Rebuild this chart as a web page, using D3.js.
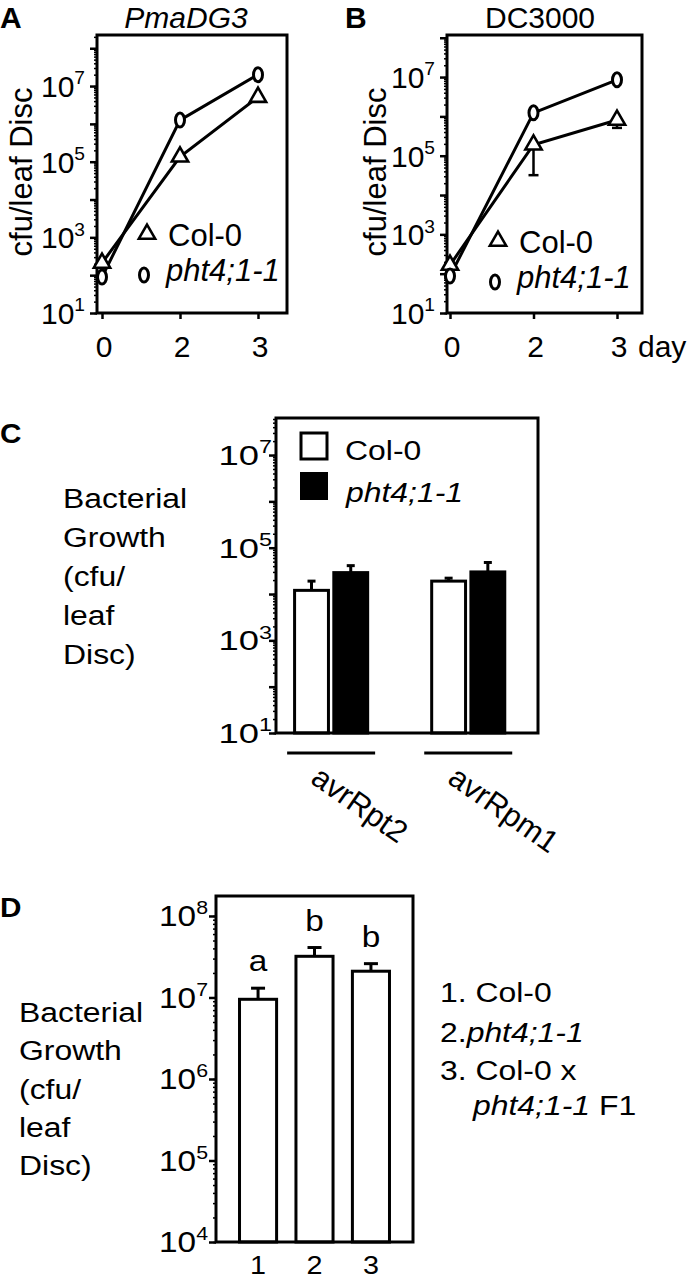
<!DOCTYPE html>
<html>
<head>
<meta charset="utf-8">
<script src="https://cdn.jsdelivr.net/npm/d3@7"></script>
<style>
  body { margin: 0; background: #fff; }
  svg { display: block; }
  text { font-family: "Liberation Sans", Arial, Helvetica, sans-serif; fill: #000; }
</style>
</head>
<body>
<div id="chart"></div>
<script>
// ---- data ----
var days = ["0", "2", "3"];
var pmaCol0 = [210, 1.35e5, 5.1e6];
var pmaPht = [89, 1.26e6, 2.0e7];
var dcCol0 = [166, 1.9e5, 8.1e5];
var dcCol0Low = [166, 3.2e4, 5.1e5];
var dcPht = [87, 1.23e6, 8.5e6];

var avrStrains = ["avrRpt2", "avrRpm1"];
var genotypes = ["Col-0", "pht4;1-1"];
var avrCol0 = [1.2e4, 1.9e4];
var avrCol0Err = [1.9e4, 2.2e4];
var avrPht = [2.9e4, 3.0e4];
var avrPhtErr = [4.1e4, 4.8e4];

var f1Lines = ["1", "2", "3"];
var f1Growth = [9.5e6, 3.2e7, 2.1e7];
var f1Err = [1.3e7, 4.1e7, 2.6e7];
var f1Letters = ["a", "b", "b"];

var yLabelLines = ["Bacterial", "Growth", "(cfu/", "leaf", "Disc)"];

var svg = d3.select("#chart").append("svg")
    .attr("width", 688)
    .attr("height", 1280);

// text helper, sx stretches horizontally like the original figure
function txt(g, x, y, s, size, o) {
    o = o || {};
    var t = g.append("text")
        .attr("transform", "translate(" + x + "," + y + ") scale(" + (o.sx || 1) + ",1)")
        .style("font-size", size + "px");
    if (o.anchor) t.attr("text-anchor", o.anchor);
    if (o.italic) t.style("font-style", "italic");
    if (o.bold) t.style("font-weight", "bold");
    t.text(s);
    return t;
}

function powLabel(g, x, y, e, size, sx) {
    var t = g.append("text")
        .attr("transform", "translate(" + x + "," + (y + size * 0.36) + ") scale(" + sx + ",1)")
        .attr("text-anchor", "end")
        .style("font-size", size + "px");
    t.append("tspan").text("10");
    t.append("tspan").attr("dy", -size * 0.42).style("font-size", (size * 0.64) + "px").text(e);
}

// log axis with minor ticks + frame box
function logAxis(g, y, x0, x1, majors, labelled, gap, size, sx) {
    var dom = y.domain();
    var minor = y.ticks(20).filter(function(v) { return v >= dom[0] && v <= dom[1]; });
    g.append("g")
        .attr("transform", "translate(" + x0 + ",0)")
        .call(d3.axisLeft(y).tickValues(minor).tickSize(3).tickFormat(""))
        .call(function(a) { a.select(".domain").remove(); a.selectAll("line").attr("stroke-width", 1.5); });
    g.append("g")
        .attr("transform", "translate(" + x0 + ",0)")
        .call(d3.axisLeft(y).tickValues(majors).tickSize(7).tickFormat(""))
        .call(function(a) { a.select(".domain").remove(); a.selectAll("line").attr("stroke-width", 2.5); });
    labelled.forEach(function(v) {
        powLabel(g, x0 - gap, y(v), Math.round(Math.log10(v)), size, sx);
    });
    var r = y.range();
    g.append("rect")
        .attr("x", x0).attr("y", r[1])
        .attr("width", x1 - x0).attr("height", r[0] - r[1])
        .attr("fill", "none").attr("stroke", "#000").attr("stroke-width", 3);
}

function triangle(g, x, y) {
    g.append("path")
        .attr("d", d3.symbol(d3.symbolTriangle).size(115)())
        .attr("transform", "translate(" + x + "," + y + ")")
        .attr("fill", "#fff").attr("stroke", "#000").attr("stroke-width", 2.6);
}
function oval(g, x, y) {
    g.append("ellipse")
        .attr("cx", x).attr("cy", y).attr("rx", 4.5).attr("ry", 7)
        .attr("fill", "#fff").attr("stroke", "#000").attr("stroke-width", 3);
}

// ---- panels A and B: time course ----
function timeCourse(o) {
    var g = svg.append("g");
    var x = d3.scalePoint().domain(days).range(o.xr);
    var y = d3.scaleLog().domain([10, o.ymax]).range([313, 35]);
    var decs = [1e1, 1e2, 1e3, 1e4, 1e5, 1e6, 1e7, 1e8].filter(function(v) { return v <= o.ymax; });
    logAxis(g, y, o.x0, o.x1, decs, [1e1, 1e3, 1e5, 1e7], 12, 30, 1);

    g.append("g")
        .attr("transform", "translate(0,313)")
        .call(d3.axisBottom(x).tickSize(6).tickFormat(""))
        .call(function(a) { a.select(".domain").remove(); a.selectAll("line").attr("stroke-width", 2.5); });
    days.forEach(function(d) { txt(g, x(d) + 2, 357, d, 30, {anchor: "middle"}); });

    var line = d3.line().x(function(d, i) { return x(days[i]); }).y(function(d) { return y(d); });
    [o.col0, o.pht].forEach(function(s) {
        g.append("path").datum(s).attr("d", line)
            .attr("fill", "none").attr("stroke", "#000").attr("stroke-width", 3);
    });
    if (o.low) {
        o.low.forEach(function(v, i) {
            if (v >= o.col0[i]) return;
            var cx = x(days[i]);
            g.append("line").attr("x1", cx).attr("x2", cx).attr("y1", y(o.col0[i])).attr("y2", y(v))
                .attr("stroke", "#000").attr("stroke-width", 2.5);
            g.append("line").attr("x1", cx - 5).attr("x2", cx + 5).attr("y1", y(v)).attr("y2", y(v))
                .attr("stroke", "#000").attr("stroke-width", 2.5);
        });
    }
    o.col0.forEach(function(v, i) { triangle(g, x(days[i]), y(v)); });
    o.pht.forEach(function(v, i) { oval(g, x(days[i]), y(v)); });

    // legend
    triangle(g, o.leg[0] + 3, o.leg[1] - 12);
    txt(g, o.leg[0] + 24, o.leg[1], "Col-0", 31);
    oval(g, o.leg[0], o.leg[1] + 29);
    txt(g, o.leg[0] + 22, o.leg[1] + 35, "pht4;1-1", 31, {italic: true});

    // titles
    txt(g, o.letterX, 28, o.letter, 30, {bold: true});
    txt(g, o.titleX, 28, o.title, 30, {anchor: "middle", italic: o.italicTitle});
    g.append("text")
        .attr("transform", "translate(" + o.ylabX + ",172) rotate(-90)")
        .attr("text-anchor", "middle")
        .style("font-size", "31px")
        .text("cfu/leaf Disc");
    return g;
}

timeCourse({
    xr: [102, 258], x0: 97, x1: 287, ymax: Math.pow(10, 8.35),
    col0: pmaCol0, pht: pmaPht, leg: [144, 246],
    letter: "A", letterX: 0, title: "PmaDG3", titleX: 186, italicTitle: true, ylabX: 32
});
var gB = timeCourse({
    xr: [450, 617], x0: 447, x1: 642, ymax: Math.pow(10, 8.07),
    col0: dcCol0, pht: dcPht, low: dcCol0Low, leg: [495, 253],
    letter: "B", letterX: 345, title: "DC3000", titleX: 540, italicTitle: false, ylabX: 386
});
txt(gB, 638, 357, "day", 30);

// ---- panel C: avr strains ----
var gC = svg.append("g");
var xC = d3.scaleBand().domain(avrStrains).range([276, 538])
    .paddingInner(0.445).paddingOuter(0.178).align(0.35);
var xCin = d3.scaleBand().domain(genotypes).range([0, xC.bandwidth()]).paddingInner(0.06);
var yC = d3.scaleLog().domain([10, Math.pow(10, 7.8)]).range([733, 418]);
var cVals = [avrCol0, avrPht], cErr = [avrCol0Err, avrPhtErr];

avrStrains.forEach(function(s, i) {
    genotypes.forEach(function(gt, j) {
        var bx = xC(s) + xCin(gt), bw = xCin.bandwidth(), v = cVals[j][i], e = cErr[j][i];
        var cx = bx + bw / 2;
        gC.append("line").attr("x1", cx).attr("x2", cx).attr("y1", yC(v)).attr("y2", yC(e))
            .attr("stroke", "#000").attr("stroke-width", 3);
        gC.append("line").attr("x1", cx - 4).attr("x2", cx + 4).attr("y1", yC(e)).attr("y2", yC(e))
            .attr("stroke", "#000").attr("stroke-width", 3);
        gC.append("rect")
            .attr("x", bx + 1.5).attr("y", yC(v))
            .attr("width", bw - 3).attr("height", yC.range()[0] - yC(v))
            .attr("fill", j === 0 ? "#fff" : "#000")
            .attr("stroke", "#000").attr("stroke-width", 3);
    });
    var c = xC(s) + xC.bandwidth() / 2;
    gC.append("line").attr("x1", c - 44).attr("x2", c + 44).attr("y1", 753).attr("y2", 753)
        .attr("stroke", "#000").attr("stroke-width", 3);
    gC.append("text")
        .attr("transform", "translate(" + (c - 22) + ",782) rotate(35)")
        .style("font-size", "31px")
        .text(s);
});
logAxis(gC, yC, 276, 538, [1e1, 1e2, 1e3, 1e4, 1e5, 1e6, 1e7], [1e1, 1e3, 1e5, 1e7], 4, 28, 1.3);

gC.append("rect").attr("x", 301).attr("y", 433).attr("width", 26).attr("height", 26)
    .attr("fill", "#fff").attr("stroke", "#000").attr("stroke-width", 3);
gC.append("rect").attr("x", 300).attr("y", 472).attr("width", 28).attr("height", 28).attr("fill", "#000");
txt(gC, 345, 460, "Col-0", 28, {sx: 1.14});
txt(gC, 346, 502, "pht4;1-1", 28, {sx: 1.14, italic: true});
txt(gC, 0, 443, "C", 27, {bold: true, sx: 1.1});
yLabelLines.forEach(function(l, i) { txt(gC, 63, 508 + i * 39, l, 28, {sx: 1.14}); });

// ---- panel D: F1 ----
var gD = svg.append("g");
var xD = d3.scaleBand().domain(f1Lines).range([216, 413])
    .paddingInner(0.29).paddingOuter(0.39).align(0.5);
var yD = d3.scaleLog().domain([1e4, Math.pow(10, 8.245)]).range([1242, 896]);

f1Lines.forEach(function(k, i) {
    var bx = xD(k), bw = xD.bandwidth(), cx = bx + bw / 2;
    gD.append("line").attr("x1", cx).attr("x2", cx).attr("y1", yD(f1Growth[i])).attr("y2", yD(f1Err[i]))
        .attr("stroke", "#000").attr("stroke-width", 3);
    gD.append("line").attr("x1", cx - 7).attr("x2", cx + 7).attr("y1", yD(f1Err[i])).attr("y2", yD(f1Err[i]))
        .attr("stroke", "#000").attr("stroke-width", 3);
    gD.append("rect")
        .attr("x", bx + 1.5).attr("y", yD(f1Growth[i]))
        .attr("width", bw - 3).attr("height", yD.range()[0] - yD(f1Growth[i]))
        .attr("fill", "#fff").attr("stroke", "#000").attr("stroke-width", 3);
    txt(gD, cx, yD(f1Err[i]) - 17, f1Letters[i], 29, {anchor: "middle", sx: 1.15});
    txt(gD, cx, 1274, k, 25, {anchor: "middle", sx: 1.15});
});
logAxis(gD, yD, 216, 413, [1e4, 1e5, 1e6, 1e7, 1e8], [1e4, 1e5, 1e6, 1e7, 1e8], 8, 29, 1.15);

txt(gD, 0, 917, "D", 27, {bold: true, sx: 1.1});
yLabelLines.forEach(function(l, i) { txt(gD, 19, 1022 + i * 38.3, l, 28, {sx: 1.14}); });

txt(gD, 440, 1002, "1. Col-0", 28, {sx: 1.14});
var t2 = gD.append("text").attr("transform", "translate(440,1042) scale(1.14,1)").style("font-size", "28px");
t2.append("tspan").text("2.");
t2.append("tspan").style("font-style", "italic").text(genotypes[1]);
txt(gD, 440, 1080, "3. Col-0 x", 28, {sx: 1.14});
var t3 = gD.append("text").attr("transform", "translate(473,1115) scale(1.14,1)").style("font-size", "28px");
t3.append("tspan").style("font-style", "italic").text(genotypes[1]);
t3.append("tspan").text(" F1");
</script>
</body>
</html>
